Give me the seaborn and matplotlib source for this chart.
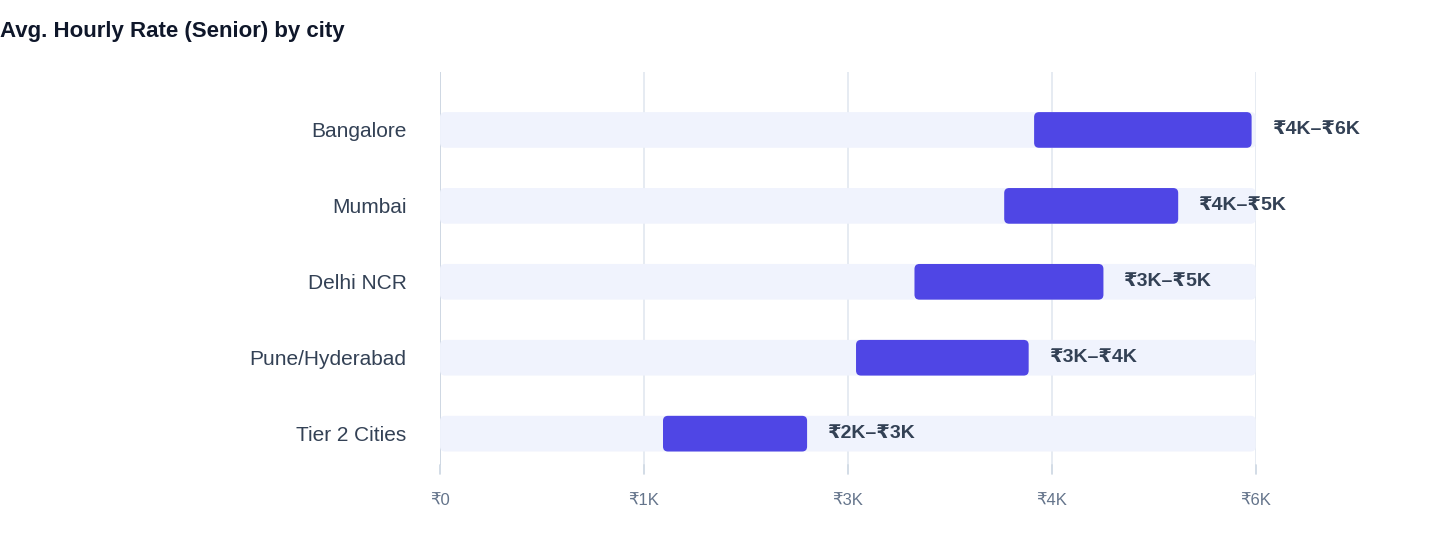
import matplotlib
matplotlib.use('Agg')
import matplotlib.pyplot as plt
import seaborn as sns
import pandas as pd
from matplotlib.patches import FancyBboxPatch

cities = ['Bangalore', 'Mumbai', 'Delhi NCR', 'Pune/Hyderabad', 'Tier 2 Cities']
low = [4370, 4150, 3490, 3060, 1640]
high = [5970, 5430, 4880, 4330, 2700]
labels = ['₹4K–₹6K', '₹4K–₹5K', '₹3K–₹5K', '₹3K–₹4K', '₹2K–₹3K']
ticks = [0, 1500, 3000, 4500, 6000]
tick_labels = ['₹0', '₹1K', '₹3K', '₹4K', '₹6K']
xmax = 6000

sns.set_theme(style='white')
plt.rcParams['font.family'] = ['Liberation Sans', 'DejaVu Sans']

df = pd.DataFrame({'city': cities, 'low': low, 'high': high})
df['full'] = xmax

fig = plt.figure(figsize=(14.4, 5.6), dpi=100)
ax = fig.add_axes([0.3056, 0.17, 0.872 - 0.3056, 0.871 - 0.17])

sns.barplot(data=df, x='full', y='city', color='#EEF2FF', width=0.47, ax=ax, zorder=2)
n_bg = len(ax.patches)
ax.barh(range(len(cities)), df['high'] - df['low'], left=df['low'], height=0.47,
        color='#4F46E5', zorder=3)

ax.set_xlim(0, xmax)
ax.set_ylim(4.41, -0.76)

# round corners
px_x = xmax / 816.0
px_y = 1 / 76.0
for p in list(ax.patches):
    x, y = p.get_x(), p.get_y()
    w, h = p.get_width(), p.get_height()
    fb = FancyBboxPatch((x, y), w, h, boxstyle='round,pad=0,rounding_size=%f' % (5 * px_x),
                        mutation_aspect=px_y / px_x, facecolor=p.get_facecolor(),
                        edgecolor='none', zorder=p.get_zorder())
    p.remove()
    ax.add_patch(fb)

for i, (h, t) in enumerate(zip(high, labels)):
    ax.text(h + 20 * px_x, i, t, va='center', ha='left', fontsize=14,
            fontweight='bold', color='#334155')

ax.set_xticks(ticks)
ax.set_xticklabels(tick_labels, color='#64748b', fontsize=12)
ax.tick_params(axis='y', labelsize=15, colors='#334155', length=0, pad=24)
ax.tick_params(axis='x', length=0, pad=20)
ax.set_xlabel('')
ax.set_ylabel('')
for s in ax.spines.values():
    s.set_visible(False)
ax.xaxis.grid(True, color='#e2e8f0', linewidth=1.2, zorder=0)
ax.set_axisbelow(True)
ax.axvline(0, color='#cbd5e1', linewidth=1.2, zorder=1)
for t in ticks:
    ax.plot([t, t], [4.41, 4.53], color='#cbd5e1', lw=1.2, clip_on=False)

fig.text(0.0, 1 - 32 / 560, 'Avg. Hourly Rate (Senior) by city', fontsize=16,
         fontweight='bold', color='#0f172a', va='center', ha='left')

fig.savefig('out.png', dpi=100)
